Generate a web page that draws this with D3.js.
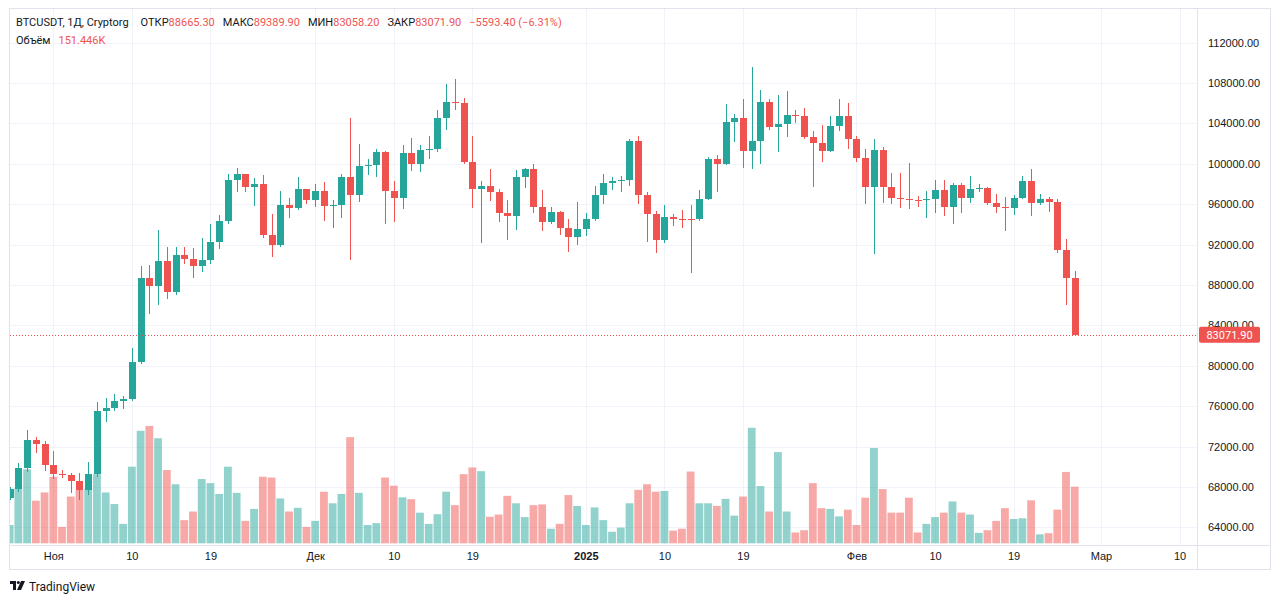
<!DOCTYPE html>
<html lang="ru">
<head>
<meta charset="utf-8">
<title>BTCUSDT 1Д</title>
<script src="https://d3js.org/d3.v7.min.js"></script>
<style>
  body { margin: 0; background: #fff; }
  svg { display: block; font-family: Roboto, "Noto Sans", sans-serif; }
  .grid line { stroke: #f0f3fa; stroke-width: 1; shape-rendering: crispEdges; }
  .axis text { fill: #131722; font-size: 11px; }
  .axis .domain { display: none; }
</style>
</head>
<body>
<script>
// daily candles, Oct 27 2024 .. Feb 26 2025
var dates = d3.utcDay.range(new Date(Date.UTC(2024, 9, 27)), new Date(Date.UTC(2025, 1, 27)));

var opens = [66900,67850,69850,72700,72300,70200,69300,69150,68600,67700,69300,75550,75800,76500,76700,80400,88700,87900,90400,87300,91000,90600,89850,90450,92300,94300,98400,98950,97700,98000,92900,91950,95900,95650,97450,96400,97300,95850,95950,98700,96900,99800,99900,101200,97300,96600,101100,100000,101400,101420,104500,106100,106050,100200,97450,97750,97200,95150,94800,98650,99450,95700,94200,95200,93650,92700,93500,94500,96950,98100,98250,98350,102250,96950,95000,92450,94700,94550,94520,94480,96550,100500,99950,104100,104550,101300,102250,106150,103650,103950,104800,104700,102600,102050,101300,103750,104700,102400,100600,97700,101400,97700,96600,96520,96430,96370,96480,97400,95750,97850,96600,97500,97580,96100,95750,95620,96650,98250,96150,96550,96250,91450,88665.3];
var highs = [68000,70400,73600,72970,72600,71600,69700,69400,69400,70500,76400,76800,77200,77000,81800,89900,90000,93400,91800,91800,91800,91700,92600,94000,94900,99000,99600,98950,98600,98900,95000,97300,96600,98700,97500,98000,98200,96400,99000,104500,102000,100500,101500,101250,98300,101900,102550,101900,102700,105300,107850,108400,106500,102750,98250,99450,97450,96400,99400,99550,99950,97400,95700,95300,94500,96200,95100,97800,98950,98700,98800,102450,102700,97200,95350,95900,95000,95400,95900,97350,100700,100850,105900,104950,106450,109600,107250,106400,106850,107150,105300,105550,103250,103800,104750,106400,106050,102750,101450,102450,101650,99100,99050,100100,96850,97300,98350,98350,98100,98100,98800,97950,97700,97000,96700,96950,98750,99450,97050,96750,96500,92500,89389.9];
var lows = [66700,67500,69500,71400,69600,68800,68850,67400,66700,67200,69000,74400,75500,75700,76500,80200,85100,86000,86600,87000,90100,88700,89300,90100,91600,94000,97200,97200,95800,92600,90800,91800,94600,95400,96000,95700,94300,93600,94600,90500,96200,98900,98700,94000,94200,95500,99300,99200,100500,101200,103300,105300,100000,95600,92200,96300,94200,92450,93400,97600,95150,93300,94000,92900,91300,92000,92800,94300,96000,97400,97200,97800,96000,92300,91150,92150,93800,93650,89150,94300,96400,97250,99900,102200,99550,99450,100000,103300,101200,102650,104050,102400,97700,100150,101200,103200,101450,100150,96000,91100,96100,96050,95650,95550,95700,94650,95150,94800,94000,95150,96100,97200,95950,95100,93300,94950,96500,94800,95950,95200,91200,86050,83058.2];
var closes = [67850,69850,72700,72300,70200,69300,69150,68600,67700,69300,75550,75800,76500,76700,80400,88700,87900,90400,87300,91000,90600,89850,90450,92300,94300,98400,98950,97700,98000,92900,91950,95900,95650,97450,96400,97300,95850,95950,98700,96900,99800,99900,101200,97300,96600,101100,100000,101400,101420,104500,106100,106050,100200,97450,97750,97200,95150,94800,98650,99450,95700,94200,95200,93650,92700,93500,94500,96950,98100,98250,98350,102250,96950,95000,92450,94700,94550,94500,94480,96550,100500,99950,104100,104550,101300,102250,106150,103650,103950,104800,104700,102600,102050,101300,103750,104700,102400,100600,97700,101400,97700,96600,96520,96430,96370,96480,97400,95750,97850,96600,97500,97580,96100,95750,95620,96650,98250,96150,96550,96250,91450,88665.3,83071.9];
// volume, thousands
var volumes = [49,147,198,114,136,178,44,125,143,147,185,136,105,52,205,301,314,281,196,158,62,85,172,161,132,205,135,60,92,178,176,120,85,95,44,60,138,107,132,284,135,49,54,176,154,123,118,82,52,78,138,102,185,203,193,71,77,127,107,70,102,104,39,52,129,100,49,96,62,31,42,107,143,158,138,140,34,39,192,107,107,100,119,74,125,309,153,85,244,85,29,35,161,94,92,72,90,49,122,255,145,82,82,122,29,52,70,82,112,82,77,28,35,60,94,65,67,115,24,27,90,191,151.446];

var priceTicks = [64000,68000,72000,76000,80000,84000,88000,92000,96000,100000,104000,108000,112000];
var timeTicks = [[2024,10,1],[2024,10,10],[2024,10,19],[2024,11,1],[2024,11,10],[2024,11,19],[2025,0,1],[2025,0,10],[2025,0,19],[2025,1,1],[2025,1,10],[2025,1,19],[2025,2,1],[2025,2,10]]
  .map(function(a){ return new Date(Date.UTC(a[0], a[1], a[2])); });
var timeLabels = ["Ноя","10","19","Дек","10","19","2025","10","19","Фев","10","19","Мар","10"];

var up = "#26a69a", down = "#ef5350";
var width = 1280, height = 603;
var paneL = 10, paneR = 1197, paneT = 9, paneB = 545;

var svg = d3.select("body").append("svg")
  .attr("width", width).attr("height", height);

var x = d3.scaleUtc()
  .domain([new Date(Date.UTC(2024,10,1)), new Date(Date.UTC(2025,2,10))])
  .range([53.3, 1179.5]);
var y = d3.scaleLinear().domain([64000, 112000]).range([527.4, 42.5]);
var yv = d3.scaleLinear().domain([0, 400]).range([543.3, 393.8]);

// frame
svg.append("rect").attr("x", 9.5).attr("y", 8.5).attr("width", 1261).attr("height", 561)
  .attr("fill", "none").attr("stroke", "#e0e3eb").attr("shape-rendering", "crispEdges");

// grid
var grid = svg.append("g").attr("class", "grid");
grid.selectAll(".h").data(priceTicks).enter().append("line")
  .attr("x1", paneL).attr("x2", paneR)
  .attr("y1", function(d){ return Math.round(y(d)) + 0.5; })
  .attr("y2", function(d){ return Math.round(y(d)) + 0.5; });
grid.selectAll(".v").data(timeTicks).enter().append("line")
  .attr("y1", paneT).attr("y2", paneB)
  .attr("x1", function(d){ return Math.round(x(d)) + 0.5; })
  .attr("x2", function(d){ return Math.round(x(d)) + 0.5; });

svg.append("defs").append("clipPath").attr("id", "pane")
  .append("rect").attr("x", paneL).attr("y", paneT).attr("width", paneR - paneL).attr("height", paneB - paneT - 1);

var plot = svg.append("g").attr("clip-path", "url(#pane)");

var rows = dates.map(function(d, i){
  return { date: d, o: opens[i], h: highs[i], l: lows[i], c: closes[i], v: volumes[i] };
});
function col(d){ return d.c >= d.o ? up : down; }

// volume
plot.append("g").selectAll("rect").data(rows).enter().append("rect")
  .attr("x", function(d){ return x(d.date) - 3.9; })
  .attr("width", 7.8)
  .attr("y", function(d){ return yv(d.v); })
  .attr("height", function(d){ return yv(0) - yv(d.v); })
  .attr("fill", col).attr("fill-opacity", 0.5);

// candles
var cg = plot.append("g").attr("shape-rendering", "crispEdges");
cg.selectAll("line").data(rows).enter().append("line")
  .attr("x1", function(d){ return Math.round(x(d.date)) + 0.5; })
  .attr("x2", function(d){ return Math.round(x(d.date)) + 0.5; })
  .attr("y1", function(d){ return y(d.h); })
  .attr("y2", function(d){ return y(d.l); })
  .attr("stroke", col);
cg.selectAll("rect").data(rows).enter().append("rect")
  .attr("x", function(d){ return Math.round(x(d.date)) - 3; })
  .attr("width", 7)
  .attr("y", function(d){ return y(Math.max(d.o, d.c)); })
  .attr("height", function(d){ return Math.max(1, Math.abs(y(d.o) - y(d.c))); })
  .attr("fill", col);

// last price line
var last = closes[closes.length - 1];
svg.append("line")
  .attr("x1", paneL).attr("x2", paneR)
  .attr("y1", Math.round(y(last)) + 0.5).attr("y2", Math.round(y(last)) + 0.5)
  .attr("stroke", down).attr("stroke-dasharray", "1,2");

// axes separators
svg.append("line").attr("x1", paneR + 0.5).attr("x2", paneR + 0.5).attr("y1", 8).attr("y2", 570)
  .attr("stroke", "#e0e3eb");
svg.append("line").attr("x1", 9).attr("x2", 1271).attr("y1", paneB + 0.5).attr("y2", paneB + 0.5)
  .attr("stroke", "#e0e3eb");

// price axis
svg.append("g").attr("class", "axis")
  .attr("transform", "translate(" + (paneR + 11) + ",0)")
  .call(d3.axisRight(y).tickValues(priceTicks).tickSize(0).tickPadding(0)
    .tickFormat(function(d){ return d.toFixed(2); }));

// time axis
svg.append("g").attr("class", "axis")
  .attr("transform", "translate(0," + (paneB + 7) + ")")
  .call(d3.axisBottom(x).tickValues(timeTicks).tickSize(0).tickPadding(0)
    .tickFormat(function(d, i){ return timeLabels[i]; }))
  .selectAll("text")
  .attr("font-weight", function(d, i){ return timeLabels[i] === "2025" ? "bold" : null; });

// last price label
svg.append("rect").attr("x", 1199).attr("y", y(last) - 8).attr("width", 61).attr("height", 16)
  .attr("rx", 2).attr("fill", down);
svg.append("text").attr("x", 1229.5).attr("y", y(last) + 4)
  .attr("text-anchor", "middle").attr("fill", "#fff").attr("font-size", 11)
  .text(last.toFixed(2));

// legend
var lg = svg.append("text").attr("x", 16).attr("y", 26).attr("font-size", 11).attr("fill", "#131722");
var o = opens[opens.length-1], h = highs[highs.length-1], l = lows[lows.length-1];
var ch = last - closes[closes.length-2];
var parts = [
  ["BTCUSDT, 1Д, Cryptorg", "#131722", 0],
  ["ОТКР", "#131722", 12], [o.toFixed(2), down, 0],
  ["МАКС", "#131722", 8], [h.toFixed(2), down, 0],
  ["МИН", "#131722", 8], [l.toFixed(2), down, 0],
  ["ЗАКР", "#131722", 8], [last.toFixed(2), down, 0],
  ["−" + Math.abs(ch).toFixed(2) + " (−" + Math.abs(ch / closes[closes.length-2] * 100).toFixed(2) + "%)", down, 8]
];
lg.selectAll("tspan").data(parts).enter().append("tspan")
  .attr("dx", function(d){ return d[2]; })
  .attr("fill", function(d){ return d[1]; })
  .text(function(d){ return d[0]; });

var vl = svg.append("text").attr("x", 16).attr("y", 44).attr("font-size", 11);
vl.append("tspan").attr("fill", "#131722").text("Объём");
vl.append("tspan").attr("dx", 8).attr("fill", down).text(volumes[volumes.length-1].toFixed(3) + "K");

// logo
var logo = svg.append("g").attr("transform", "translate(10,581)").attr("fill", "#131722");
logo.append("path").attr("d", "M0 0H6V9H3V3H0Z");
logo.append("circle").attr("cx", 8.3).attr("cy", 1.5).attr("r", 1.5);
logo.append("path").attr("d", "M11 0H15L11 9H7Z");
svg.append("text").attr("x", 29).attr("y", 591).attr("font-size", 12).attr("fill", "#131722")
  .text("TradingView");
</script>
</body>
</html>
